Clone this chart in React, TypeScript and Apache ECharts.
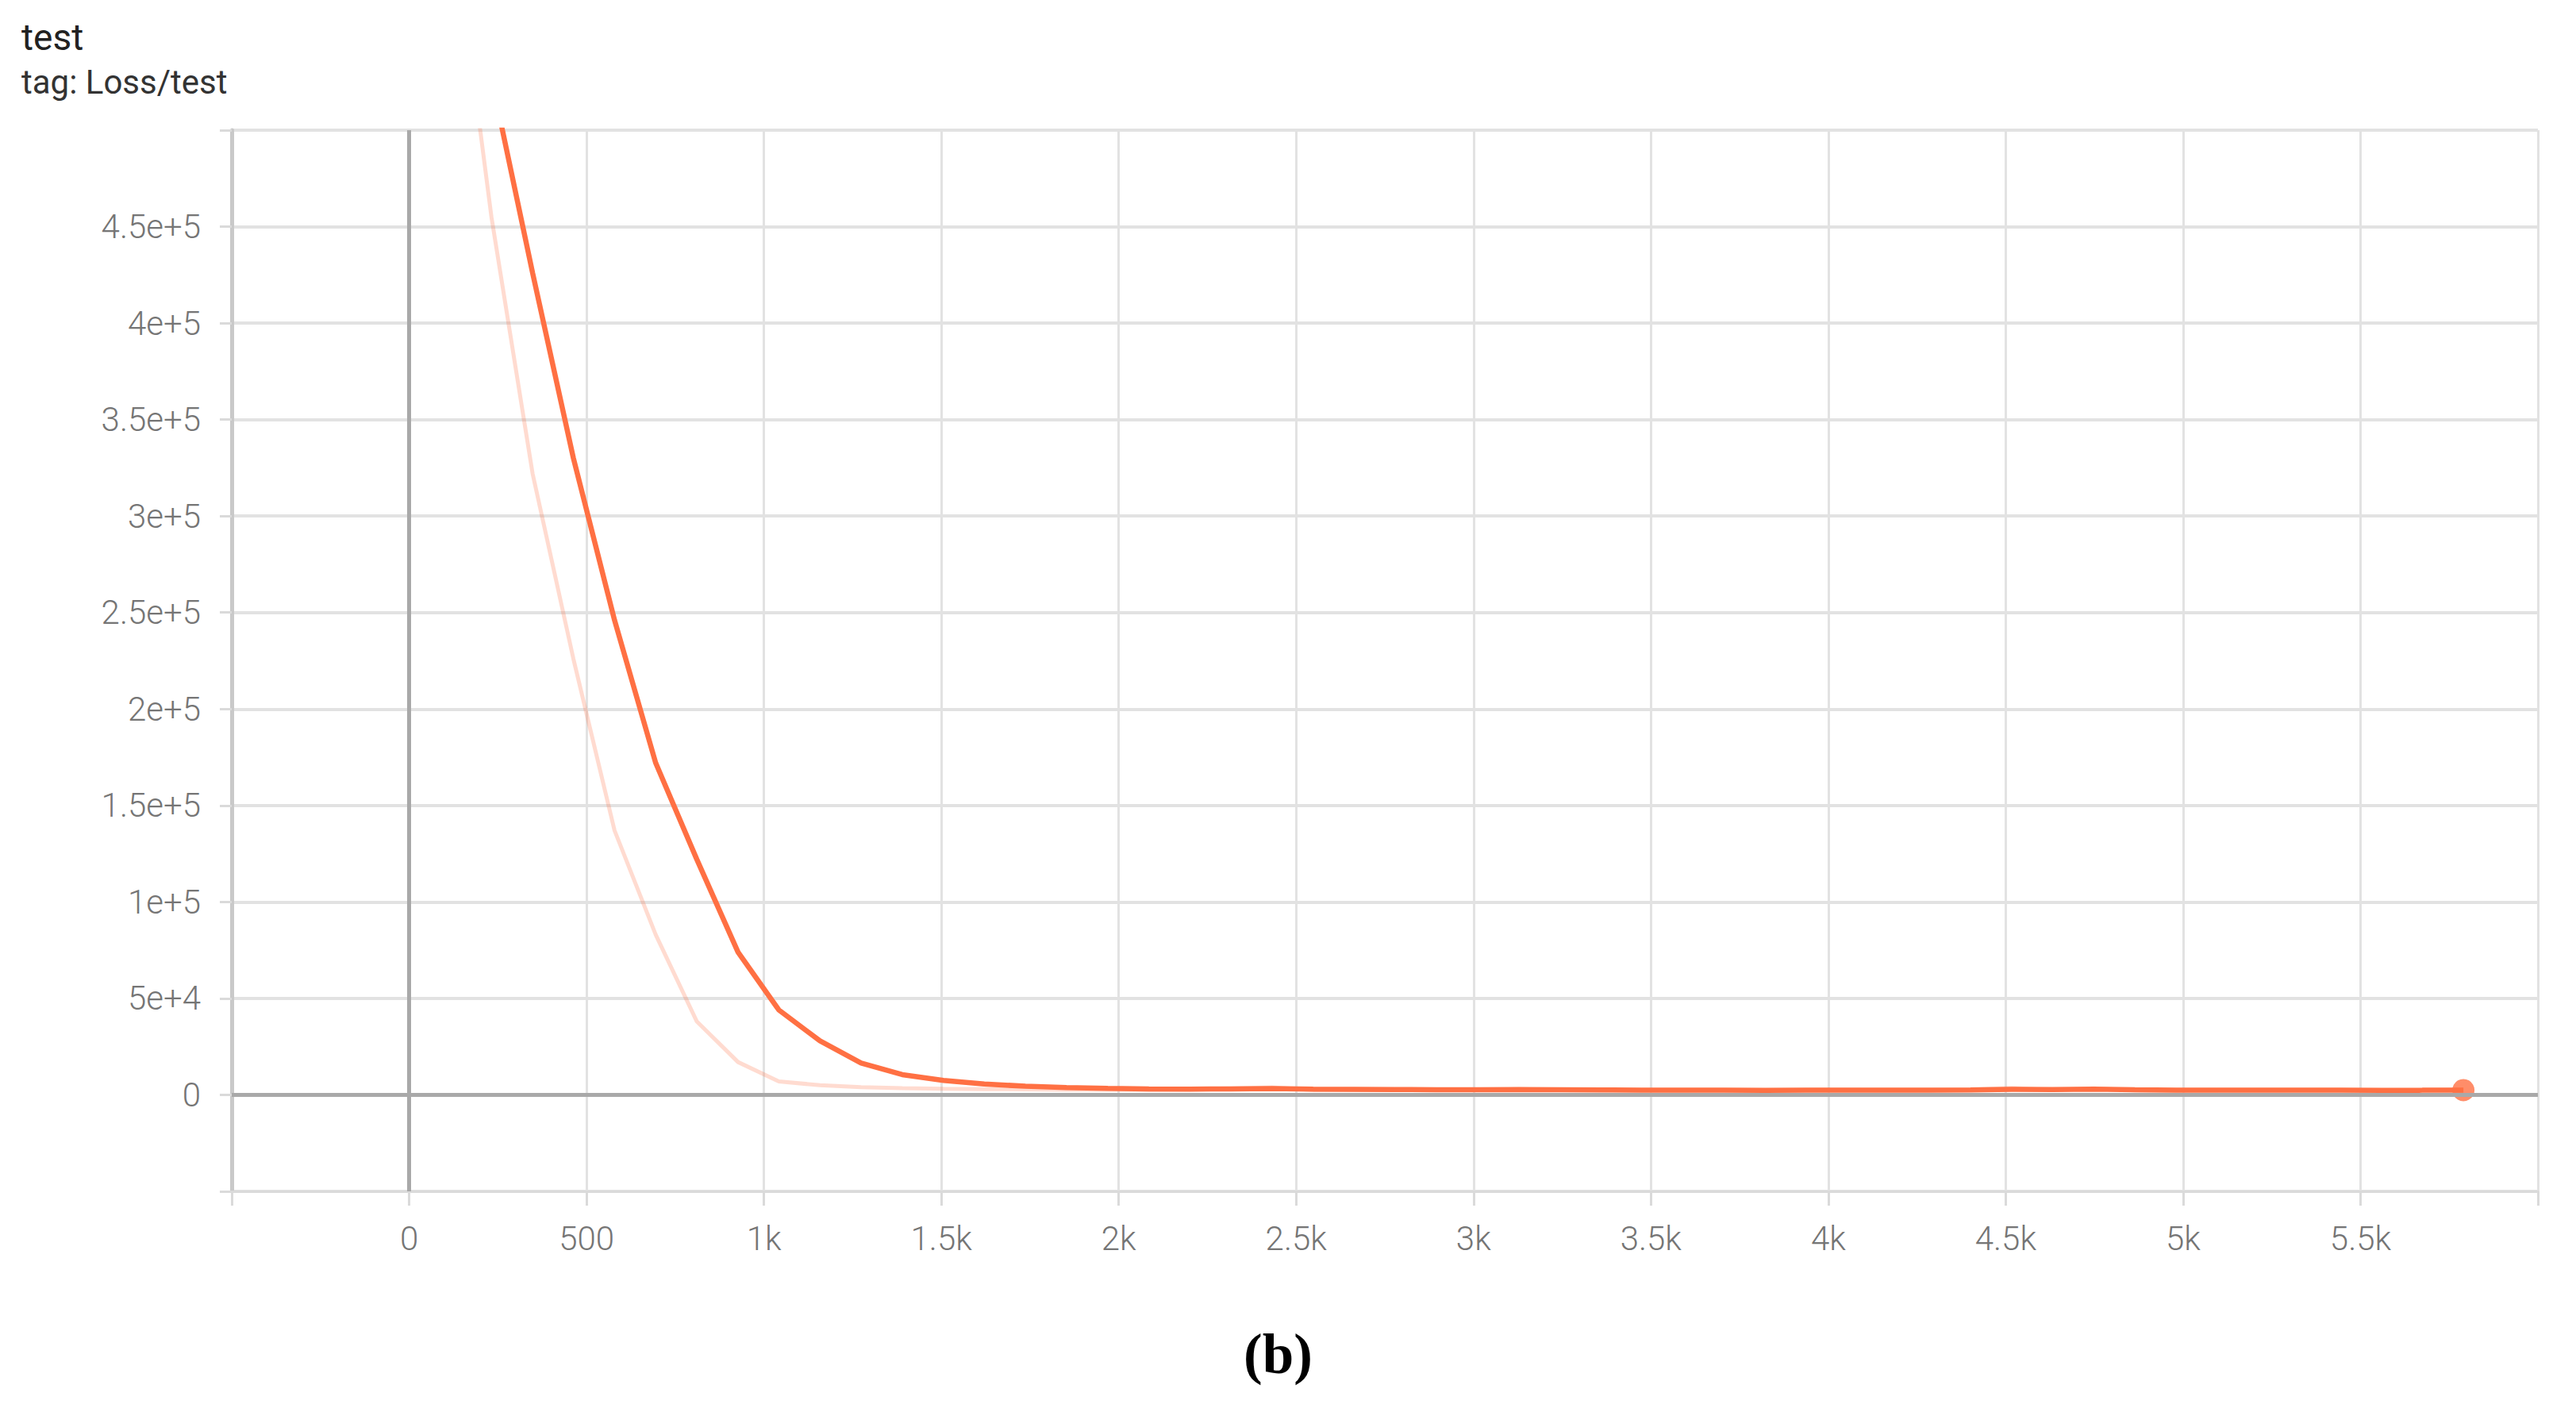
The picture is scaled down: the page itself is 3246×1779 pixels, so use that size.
import React, { useEffect, useRef } from "react";
import * as echarts from "echarts";

const steps = [116, 232, 348, 463, 579, 695, 811, 927, 1042, 1158, 1274, 1390, 1506, 1621, 1737, 1853, 1969, 2085, 2200, 2316, 2432, 2548, 2664, 2779, 2895, 3011, 3127, 3243, 3358, 3474, 3590, 3706, 3822, 3937, 4053, 4169, 4285, 4401, 4516, 4632, 4748, 4864, 4980, 5095, 5211, 5327, 5443, 5559, 5674, 5790];

const rawLoss = [620000, 455000, 322000, 226000, 137000, 83000, 38000, 17000, 7000, 5000, 4000, 3500, 3200, 3000, 2900, 2700, 2800, 2600, 2900, 3400, 3900, 2500, 2700, 2600, 2400, 2500, 3000, 2600, 2400, 2300, 2200, 2400, 2300, 2500, 2600, 2300, 2400, 2800, 3600, 2500, 3400, 2300, 2200, 2400, 2300, 2500, 2400, 2300, 2500, 2700];

const smoothLoss = [640000, 527000, 426000, 330000, 246000, 172000, 122000, 74000, 44000, 28000, 16500, 10500, 7500, 5600, 4500, 3800, 3400, 3100, 3000, 3100, 3300, 3000, 2900, 2800, 2700, 2650, 2750, 2700, 2600, 2500, 2400, 2400, 2350, 2400, 2450, 2400, 2400, 2550, 2900, 2750, 2950, 2700, 2500, 2450, 2400, 2450, 2400, 2350, 2400, 2500];

const xTickLabels: Record<number, string> = { 0: "0", 500: "500", 1000: "1k", 1500: "1.5k", 2000: "2k", 2500: "2.5k", 3000: "3k", 3500: "3.5k", 4000: "4k", 4500: "4.5k", 5000: "5k", 5500: "5.5k" };
const yTickLabels: Record<number, string> = { 0: "0", 50000: "5e+4", 100000: "1e+5", 150000: "1.5e+5", 200000: "2e+5", 250000: "2.5e+5", 300000: "3e+5", 350000: "3.5e+5", 400000: "4e+5", 450000: "4.5e+5" };

const chartTitle = "test";
const chartTag = "tag: Loss/test";
const caption = "(b)";

export default function App() {
  const ref = useRef<HTMLDivElement>(null);
  useEffect(() => {
    if (!ref.current) return;
    const chart = echarts.init(ref.current, null, { renderer: "svg" });
    const raw = steps.map((s, i) => [s, rawLoss[i]]);
    const smooth = steps.map((s, i) => [s, smoothLoss[i]]);
    const last = steps.length - 1;
    const labelStyle = { fontSize: 42, fontFamily: "Roboto", fontWeight: 300, color: "#757575" };
    chart.setOption({
      animation: false,
      backgroundColor: "#ffffff",
      grid: { left: 292, right: 48, top: 164, bottom: 278, containLabel: false },
      xAxis: {
        type: "value", min: -500, max: 6000, interval: 500,
        axisLine: { show: true, onZero: false, lineStyle: { color: "#dadada", width: 3 } },
        axisTick: { show: true, length: 18, lineStyle: { color: "#dadada", width: 3 } },
        axisLabel: { ...labelStyle, margin: 38, formatter: (v: number) => xTickLabels[v] ?? "" },
        splitLine: { show: true, lineStyle: { color: "#e2e2e2", width: 3 } },
      },
      yAxis: {
        type: "value", min: -50000, max: 500000, interval: 50000,
        axisLine: { show: true, onZero: false, lineStyle: { color: "#c9c9c9", width: 5 } },
        axisTick: { show: true, length: 15, lineStyle: { color: "#dadada", width: 3 } },
        axisLabel: { ...labelStyle, margin: 39, formatter: (v: number) => yTickLabels[v] ?? "" },
        splitLine: { show: true, lineStyle: { color: "#e2e2e2", width: 4 } },
      },
      graphic: [
        { type: "text", left: 27, top: 24, style: { text: chartTitle, font: "400 46px Roboto", fill: "#212121" } },
        { type: "text", left: 27, top: 82, style: { text: chartTag, font: "400 42px Roboto", fill: "#333333" } },
        { type: "text", left: 1567, top: 1670, style: { text: caption, font: "bold 71px 'Liberation Serif'", fill: "#000000" } },
      ],
      series: [
        {
          type: "line", z: 1, data: [[0, 0]], showSymbol: false, silent: true,
          lineStyle: { opacity: 0 },
          markLine: {
            silent: true, symbol: "none", label: { show: false }, animation: false,
            lineStyle: { color: "#a9a9a9", width: 5, type: "solid" },
            data: [{ xAxis: 0 }, { yAxis: 0 }],
          },
        },
        {
          type: "line", z: 2, data: raw, showSymbol: false, smooth: false,
          lineStyle: { color: "rgba(255,112,67,0.25)", width: 5 },
        },
        {
          type: "line", z: 3, data: smooth, showSymbol: false, smooth: false,
          lineStyle: { color: "#ff7043", width: 6.5 },
        },
        {
          type: "scatter", z: 4, data: [[steps[last], smoothLoss[last]]],
          symbol: "circle", symbolSize: 28, itemStyle: { color: "#ff7043" },
        },
      ],
    });
    return () => chart.dispose();
  }, []);
  return <div ref={ref} style={{ position: "fixed", left: 0, top: 0, width: 3246, height: 1779 }} />;
}
